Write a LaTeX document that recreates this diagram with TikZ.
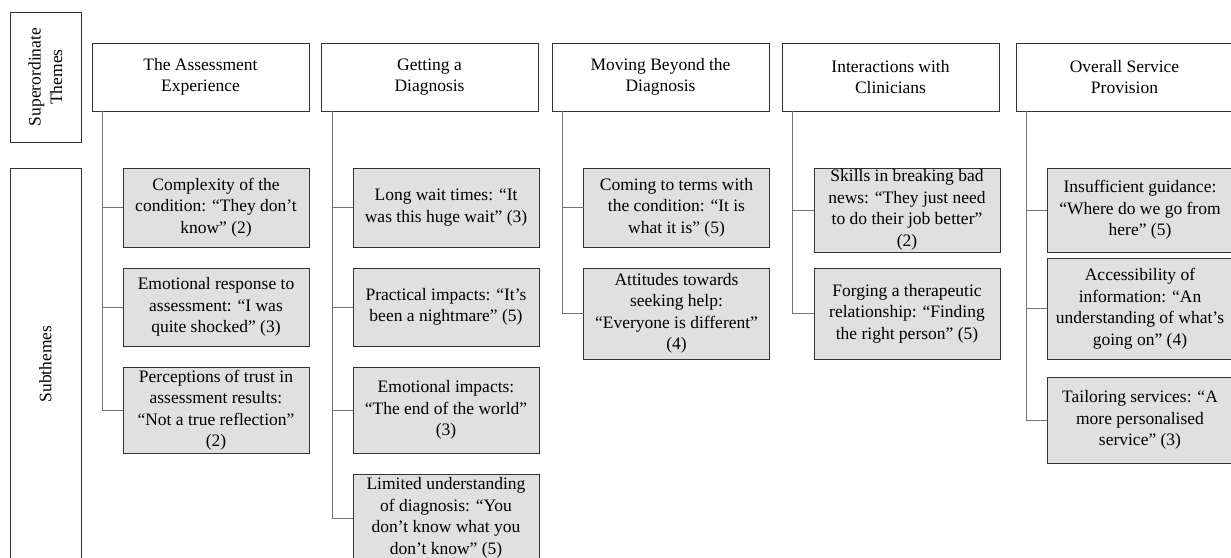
\documentclass[tikz,border=0pt]{standalone}
\usepackage{fontspec}
\setmainfont{Liberation Serif}
\usetikzlibrary{positioning}

\begin{document}
\begin{tikzpicture}[x=1pt,y=-1pt,font=\fontsize{17.5}{21.5}\selectfont,
  theme/.style={rectangle,fill=white,draw=black!80,line width=1pt,minimum width=217pt,minimum height=68pt,anchor=north west,inner sep=0pt,outer sep=0pt,align=center},
  subbox/.style={rectangle,fill=black!12,draw=black!80,line width=1pt,minimum width=186pt,anchor=north west,inner sep=0pt,outer sep=0pt,align=center},
  sidebox/.style={rectangle,fill=white,draw=black!80,line width=1pt,minimum height=71pt,rotate=90,inner sep=0pt,outer sep=0pt,align=center},
  conn/.style={draw=black!55,line width=0.8pt}]
\useasboundingbox (0,0) rectangle (1231,557);
\clip (0,0) rectangle (1231,557);
\node[sidebox,minimum width=130pt] (super) at (45.5,77) {Superordinate\\Themes};
\node[sidebox,minimum width=392pt] (subs) at (45.5,364) {Subthemes};
% superordinate themes
\node[theme] (t1) at (92,43) {The Assessment\\Experience};
\node[theme] (t2) at (321,43) {Getting a\\Diagnosis};
\node[theme] (t3) at (552,43) {Moving Beyond the\\Diagnosis};
\node[theme] (t4) at (782,43) {Interactions with\\Clinicians};
\node[theme] (t5) at (1016,43) {Overall Service\\Provision};
\coordinate (r1) at (102,111);
\coordinate (r2) at (332,111);
\coordinate (r3) at (562,111);
\coordinate (r4) at (792.5,111);
\coordinate (r5) at (1026,111);
% subthemes
\node[subbox,minimum height=79pt] (a1) at (123,168) {Complexity of the\\condition: “They don’t\\know” (2)};
\node[subbox,minimum height=78pt] (a2) at (123,268) {Emotional response to\\assessment: “I was\\quite shocked” (3)};
\node[subbox,minimum height=86pt] (a3) at (123,367) {Perceptions of trust in\\assessment results:\\“Not a true reflection”\\(2)};
\node[subbox,minimum height=79pt] (b1) at (353,168) {Long wait times: “It\\was this huge wait” (3)};
\node[subbox,minimum height=78pt] (b2) at (353,268) {Practical impacts: “It’s\\been a nightmare” (5)};
\node[subbox,minimum height=86pt] (b3) at (353,367) {Emotional impacts:\\“The end of the world”\\(3)};
\node[subbox,minimum height=88pt] (b4) at (353,474) {Limited understanding\\of diagnosis: “You\\don’t know what you\\don’t know” (5)};
\node[subbox,minimum height=79pt] (c1) at (583.5,168) {Coming to terms with\\the condition: “It is\\what it is” (5)};
\node[subbox,minimum height=91pt] (c2) at (583.5,268) {Attitudes towards\\seeking help:\\“Everyone is different”\\(4)};
\node[subbox,minimum height=84pt] (d1) at (814,168) {Skills in breaking bad\\news: “They just need\\to do their job better”\\(2)};
\node[subbox,minimum height=91pt] (d2) at (814,268) {Forging a therapeutic\\relationship: “Finding\\the right person” (5)};
\node[subbox,minimum height=84pt] (e1) at (1047,168) {Insufficient guidance:\\“Where do we go from\\here” (5)};
\node[subbox,minimum height=101pt] (e2) at (1047,258) {Accessibility of\\information: “An\\understanding of what’s\\going on” (4)};
\node[subbox,minimum height=86pt] (e3) at (1047,377) {Tailoring services: “A\\more personalised\\service” (3)};
% connectors
\draw[conn] (r1) |- (a1.west);
\draw[conn] (r1) |- (a2.west);
\draw[conn] (r1) |- (a3.west);
\draw[conn] (r2) |- (b1.west);
\draw[conn] (r2) |- (b2.west);
\draw[conn] (r2) |- (b3.west);
\draw[conn] (r2) |- (b4.west);
\draw[conn] (r3) |- (c1.west);
\draw[conn] (r3) |- (c2.west);
\draw[conn] (r4) |- (d1.west);
\draw[conn] (r4) |- (d2.west);
\draw[conn] (r5) |- (e1.west);
\draw[conn] (r5) |- (e2.west);
\draw[conn] (r5) |- (e3.west);
\end{tikzpicture}
\end{document}
